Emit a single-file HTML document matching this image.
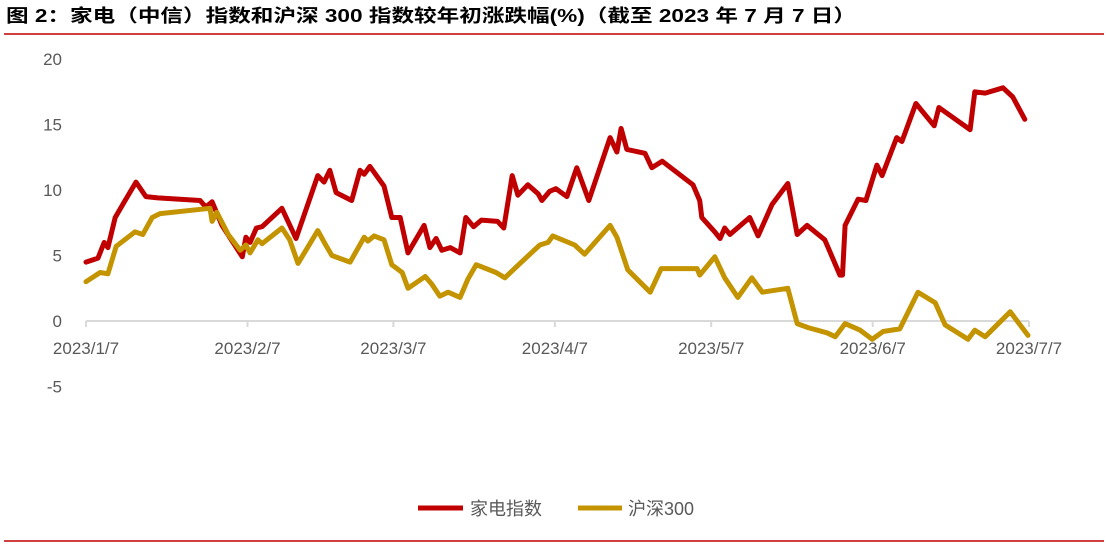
<!DOCTYPE html>
<html><head><meta charset="utf-8"><style>
body{margin:0;background:#fff;width:1106px;height:545px;overflow:hidden;font-family:"Liberation Sans","Noto Sans CJK SC",sans-serif;}
</style></head><body>
<svg width="1106" height="545" xmlns="http://www.w3.org/2000/svg">
<text x="6" y="22" font-size="18" font-weight="bold" textLength="850" lengthAdjust="spacingAndGlyphs" fill="#000" font-family="Liberation Sans, Noto Sans CJK SC, sans-serif">图 2：家电（中信）指数和沪深 300 指数较年初涨跌幅(%)（截至 2023 年 7 月 7 日）</text>
<line x1="4" y1="34" x2="1104" y2="34" stroke="#c00000" stroke-width="1.5"/>
<line x1="4" y1="541" x2="1104" y2="541" stroke="#c00000" stroke-width="1.5"/>
<g id="yaxis"></g>
<g id="xaxis"></g>
<g id="series"></g>
<g>
<line x1="418" y1="508" x2="463" y2="508" stroke="#c00000" stroke-width="5"/>
<text x="470" y="515" font-size="18" fill="#595959">家电指数</text>
<line x1="578" y1="508" x2="622" y2="508" stroke="#c49400" stroke-width="5"/>
<text x="628" y="515" font-size="18" fill="#595959">沪深300</text>
</g>
</svg>
<script>
const yTicks=[20,15,10,5,0,-5];
const xTickDays=[0,31,59,90,120,151,181];
const xTickLabels=["2023/1/7","2023/2/7","2023/3/7","2023/4/7","2023/5/7","2023/6/7","2023/7/7"];
const redDays=[0,2.3,3.5,4.2,5.6,7.5,9.6,11.5,13.8,21.9,23,24.2,26.1,30,30.7,31.5,32.7,33.8,37.6,40.3,44.5,45.7,46.8,48,51,52.6,53.4,54.5,57.2,58.7,60.3,61.8,64.9,66,67.2,68.3,69.9,71.8,72.9,74.4,75.9,79,80.2,81.8,82.9,84.8,86.8,87.5,89,90.2,92.3,94.2,96.5,100.6,101.9,102.7,103.8,107.3,108.6,110.6,116.5,117.8,118.2,120.7,121.7,122.6,123.6,127.4,129,131.7,134.7,136.5,138.4,141.8,144.7,145.2,145.7,148.2,149.7,151.8,152.8,155.6,156.6,159.3,162.8,163.7,169.7,170.6,172.6,176,177.9,180.2];
const redValues=[4.5,4.8,6.0,5.6,7.9,9.2,10.6,9.5,9.4,9.2,8.7,9.1,7.3,4.9,6.4,6.0,7.1,7.2,8.6,6.3,11.1,10.6,11.5,9.8,9.2,11.5,11.2,11.8,10.3,7.9,7.9,5.2,7.3,5.6,6.3,5.4,5.6,5.2,7.9,7.2,7.7,7.6,7.1,11.1,9.6,10.4,9.7,9.2,9.9,10.1,9.5,11.7,9.2,14.0,12.9,14.7,13.1,12.8,11.7,12.2,10.4,9.2,7.9,6.8,6.3,7.1,6.6,7.9,6.5,8.9,10.5,6.6,7.3,6.2,3.5,3.5,7.3,9.3,9.2,11.9,11.1,14.0,13.7,16.6,14.9,16.3,14.6,17.5,17.4,17.8,17.1,15.4];
const goldDays=[0,2.7,4.2,5.8,9.4,10.9,12.7,14.2,23.8,24.2,25.1,27.3,29.6,30.7,31.5,33,33.8,37.6,39.1,40.7,44.5,46,47.2,50.7,53.4,54.1,55.3,57.2,58.7,60.7,61.8,65.1,66.4,67.9,69.5,71.8,73.3,74.9,78.7,80.4,83.3,87.1,88.7,89.6,93.8,95.7,100.6,101.9,104,108.3,110.4,117.3,117.8,120.7,122.6,125.1,127.8,129.8,134.7,136.5,138.6,142.2,143.8,145.7,148.6,150.9,153,156.2,159.7,163,164.9,169.3,170.6,172.6,177.4,180.8];
const goldValues=[3.0,3.7,3.6,5.7,6.8,6.6,7.9,8.2,8.6,7.6,8.3,6.6,5.4,5.8,5.2,6.2,5.9,7.1,6.2,4.4,6.9,5.8,5.0,4.5,6.4,6.1,6.5,6.2,4.3,3.7,2.5,3.4,2.8,1.9,2.2,1.8,3.2,4.3,3.7,3.3,4.4,5.8,6.0,6.5,5.8,5.1,7.3,6.4,3.9,2.2,4.0,4.0,3.5,4.9,3.3,1.8,3.3,2.2,2.5,-0.2,-0.5,-0.9,-1.2,-0.2,-0.7,-1.4,-0.8,-0.6,2.2,1.4,-0.3,-1.4,-0.7,-1.2,0.7,-1.1];
const NS="http://www.w3.org/2000/svg";
const xS=d=>86+d*943/181;
const yS=v=>321-v*13.1;
function mk(tag,attrs,parent){const e=document.createElementNS(NS,tag);for(const k in attrs)e.setAttribute(k,attrs[k]);parent.appendChild(e);return e;}
const ya=document.getElementById('yaxis'),xa=document.getElementById('xaxis'),sg=document.getElementById('series');
yTicks.forEach(v=>{const t=mk('text',{x:62,y:yS(v)+6,'text-anchor':'end','font-size':'17',fill:'#595959'},ya);t.textContent=v;

});
const ax=mk('line',{x1:xS(0),x2:xS(181),y1:yS(0),y2:yS(0),stroke:'#d9d9d9','stroke-width':2},xa);


xTickDays.forEach((d,i)=>{const tk=mk('line',{x1:xS(d),x2:xS(d),y1:yS(0),y2:yS(0)+6,stroke:'#d9d9d9','stroke-width':2},xa);


const t=mk('text',{x:xS(d),y:yS(0)+33,'text-anchor':'middle','font-size':'17',fill:'#595959'},xa);t.textContent=xTickLabels[i];

});
function line(days,vals,color,name){const pts=days.map((d,i)=>xS(d).toFixed(1)+','+yS(vals[i]).toFixed(1)).join(' ');
const p=mk('polyline',{points:pts,fill:'none',stroke:color,'stroke-width':5,'stroke-linejoin':'round','stroke-linecap':'round'},sg);

}
line(redDays,redValues,'#c00000','appliance-index-line');
line(goldDays,goldValues,'#c49400','csi300-line');
</script>
</body></html>
